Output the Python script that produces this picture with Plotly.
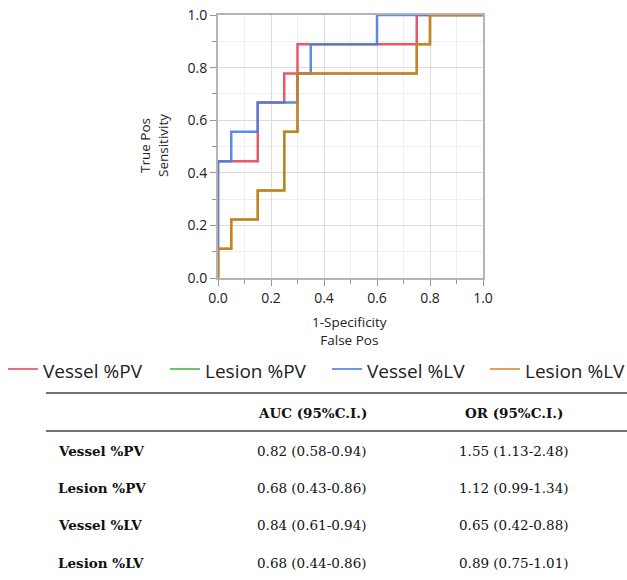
import plotly.graph_objects as go

# ---- data ----
series_names = ["Vessel %PV", "Lesion %PV", "Vessel %LV", "Lesion %LV"]
series_colors = ["#e5475c", "#4cb84c", "#4a7fe6", "#c9801f"]
series_opacity = [0.9, 0.6, 0.9, 1.0]
legend_colors = ["#ea6f7e", "#6cc46c", "#6f95ea", "#e0a060"]

vessel_pv_fpr = [0.0, 0.0, 0.15, 0.15, 0.25, 0.25, 0.30, 0.30, 0.75, 0.75, 1.0]
vessel_pv_tpr = [0.0, 0.444, 0.444, 0.667, 0.667, 0.778, 0.778, 0.889, 0.889, 1.0, 1.0]

lesion_pv_fpr = [0.0, 0.0, 0.05, 0.05, 0.15, 0.15, 0.25, 0.25, 0.30, 0.30, 0.75, 0.75, 0.80, 0.80, 1.0]
lesion_pv_tpr = [0.0, 0.111, 0.111, 0.222, 0.222, 0.333, 0.333, 0.556, 0.556, 0.778, 0.778, 0.889, 0.889, 1.0, 1.0]

vessel_lv_fpr = [0.0, 0.0, 0.05, 0.05, 0.15, 0.15, 0.30, 0.30, 0.35, 0.35, 0.60, 0.60, 1.0]
vessel_lv_tpr = [0.0, 0.444, 0.444, 0.556, 0.556, 0.667, 0.667, 0.778, 0.778, 0.889, 0.889, 1.0, 1.0]

lesion_lv_fpr = [0.0, 0.0, 0.05, 0.05, 0.15, 0.15, 0.25, 0.25, 0.30, 0.30, 0.75, 0.75, 0.80, 0.80, 1.0]
lesion_lv_tpr = [0.0, 0.111, 0.111, 0.222, 0.222, 0.333, 0.333, 0.556, 0.556, 0.778, 0.778, 0.889, 0.889, 1.0, 1.0]

axis_ticks = [0.0, 0.2, 0.4, 0.6, 0.8, 1.0]

table_header = ["AUC (95%C.I.)", "OR (95%C.I.)"]
table_rows = ["Vessel %PV", "Lesion %PV", "Vessel %LV", "Lesion %LV"]
table_auc = ["0.82 (0.58-0.94)", "0.68 (0.43-0.86)", "0.84 (0.61-0.94)", "0.68 (0.44-0.86)"]
table_or = ["1.55 (1.13-2.48)", "1.12 (0.99-1.34)", "0.65 (0.42-0.88)", "0.89 (0.75-1.01)"]

# ---- geometry ----
W, H = 627, 580
L, R, T, B = 218, 483, 15, 278


def px_x(p):
    return (p - L) / (R - L)


def px_y(p):
    return (B - p) / (B - T)


sans = "Open Sans, DejaVu Sans, sans-serif"
serif = "DejaVu Serif, Liberation Serif, serif"

fig = go.Figure()
xs = [vessel_pv_fpr, lesion_pv_fpr, vessel_lv_fpr, lesion_lv_fpr]
ys = [vessel_pv_tpr, lesion_pv_tpr, vessel_lv_tpr, lesion_lv_tpr]
for name, color, op, x, y in zip(series_names, series_colors, series_opacity, xs, ys):
    fig.add_trace(go.Scatter(x=x, y=y, mode="lines", name=name,
                             line=dict(color=color, width=2.5),
                             opacity=op, showlegend=False))

axis_common = dict(
    range=[0, 1], tickvals=axis_ticks, tickformat=".1f",
    showgrid=True, gridcolor="#dcdcdc", gridwidth=1,
    minor=dict(dtick=0.1, showgrid=True, gridcolor="#efefef",
               ticks="outside", ticklen=4, tickcolor="#999999"),
    ticks="outside", ticklen=6, tickcolor="#999999",
    showline=True, linecolor="#b4b4b4", linewidth=2, mirror=True,
    zeroline=False,
    tickfont=dict(family=sans, size=14, color="#222222"),
    fixedrange=True, automargin=False,
)
fig.update_xaxes(**axis_common)
fig.update_yaxes(**axis_common)

annotations = []
shapes = []
# axis titles
annotations.append(dict(x=px_x(154), y=px_y(146), xref="paper", yref="paper",
                        text="True Pos<br>Sensitivity", textangle=-90, showarrow=False,
                        font=dict(family=sans, size=13.5, color="#222222"),
                        xanchor="center", yanchor="middle"))
annotations.append(dict(x=px_x(349), y=px_y(331), xref="paper", yref="paper",
                        text="1-Specificity<br>False Pos", showarrow=False,
                        font=dict(family=sans, size=13.5, color="#222222"),
                        xanchor="center", yanchor="middle"))

# manual legend
leg_line_x = [8, 170, 332, 490]
leg_y = 369
for name, color, lx in zip(series_names, legend_colors, leg_line_x):
    shapes.append(dict(type="line", xref="paper", yref="paper",
                       x0=px_x(lx), x1=px_x(lx + 30), y0=px_y(leg_y), y1=px_y(leg_y),
                       line=dict(color=color, width=2)))
    annotations.append(dict(x=px_x(lx + 33), y=px_y(leg_y + 2), xref="paper", yref="paper",
                            text=name, showarrow=False,
                            font=dict(family=sans, size=19, color="#222222"),
                            xanchor="left", yanchor="middle"))

# table
hdr_y = 413
for hx, htxt in zip([312, 514], table_header):
    annotations.append(dict(x=px_x(hx), y=px_y(hdr_y), xref="paper", yref="paper",
                            text="<b>%s</b>" % htxt, showarrow=False,
                            font=dict(family=serif, size=13.5, color="#111111"),
                            xanchor="center", yanchor="middle"))
row_ys = [451, 488, 525, 563]
for lab, auc, orv, ry in zip(table_rows, table_auc, table_or, row_ys):
    annotations.append(dict(x=px_x(56), y=px_y(ry), xref="paper", yref="paper",
                            text="<b>%s</b>" % lab, showarrow=False,
                            font=dict(family=serif, size=13.5, color="#111111"),
                            xanchor="left", yanchor="middle"))
    annotations.append(dict(x=px_x(312), y=px_y(ry), xref="paper", yref="paper",
                            text=auc, showarrow=False,
                            font=dict(family=serif, size=13.5, color="#111111"),
                            xanchor="center", yanchor="middle"))
    annotations.append(dict(x=px_x(514), y=px_y(ry), xref="paper", yref="paper",
                            text=orv, showarrow=False,
                            font=dict(family=serif, size=13.5, color="#111111"),
                            xanchor="center", yanchor="middle"))

for ly in [393, 431]:
    shapes.append(dict(type="line", xref="paper", yref="paper",
                       x0=px_x(46), x1=px_x(627), y0=px_y(ly), y1=px_y(ly),
                       line=dict(color="#444444", width=1.5)))

fig.update_layout(
    width=W, height=H,
    margin=dict(l=L, r=W - R, t=T, b=H - B, pad=0, autoexpand=False),
    paper_bgcolor="white", plot_bgcolor="white",
    showlegend=False,
    annotations=annotations,
    shapes=shapes,
)

fig.write_html("out.html")
